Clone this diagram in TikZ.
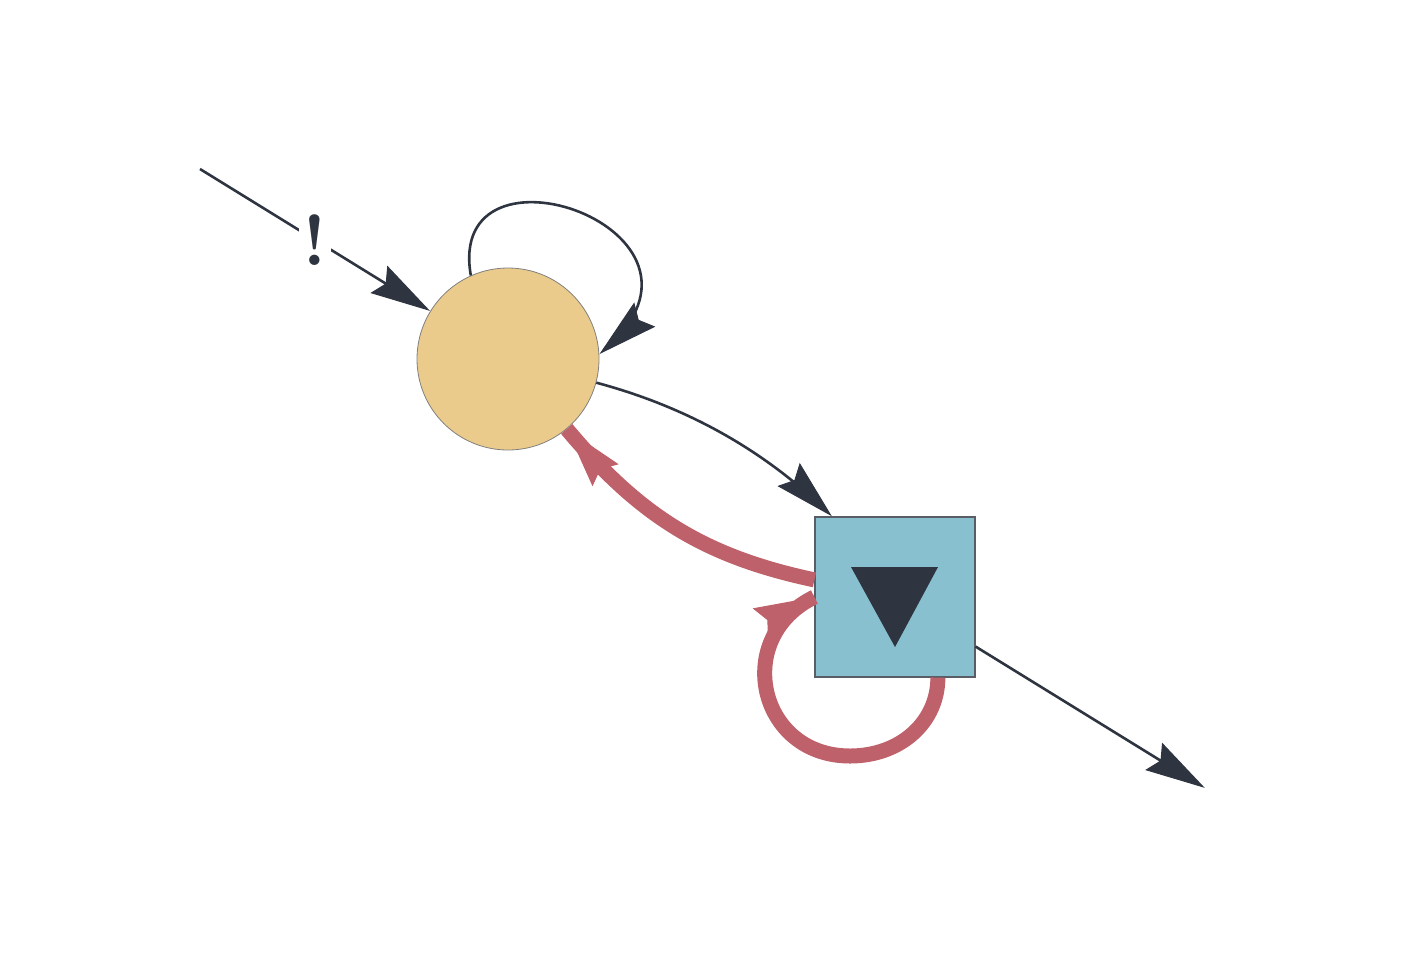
\documentclass[tikz,border=0pt]{standalone}
\usetikzlibrary{arrows.meta}
\usetikzlibrary{decorations.markings}
\definecolor{ndark}{HTML}{2E3440}
\definecolor{nyellow}{HTML}{EBCB8B}
\definecolor{nblue}{HTML}{88C0D0}
\definecolor{nred}{HTML}{BF616A}

\begin{document}
\begin{tikzpicture}[x=0.5pt, y=0.5pt,
  thinedge/.style = {line width=1.3pt, ndark, shorten >=4pt, postaction={decorate},
    decoration={markings, mark=at position 0.999 with {\arrow[line width=0.5pt]{Stealth[length=30pt, width=16pt, inset=4pt]}}}},
  thickedge/.style = {line width=7.5pt, nred, postaction={decorate},
    decoration={markings, mark=at position 0.999 with {\arrow[line width=0.5pt]{Stealth[length=30pt, width=17pt, inset=4pt]}}}},
]
	\useasboundingbox (0,0) rectangle (1407,-960);

	\node[circle, fill=nyellow, draw=gray, line width=0.4pt, minimum size=91pt, inner sep=0pt] (state) at (508,-359) {};
	\node[rectangle, fill=nblue, draw=ndark!80, line width=0.6pt, minimum size=80pt, inner sep=0pt] (stop) at (895,-597) {};
	\fill[ndark] ([shift={(-44,30)}]stop.center) -- ++(87,0) -- ++(-43,-80) -- cycle; % down triangle

	\coordinate (start) at (200,-169);
	\coordinate (end) at (1205,-788);
	\coordinate (stoploop) at ([shift={(-45,-159)}]stop.center);

	\draw[thinedge] (start) -- node[fill=white, inner sep=2pt, text=ndark, font=\fontsize{36}{40}\selectfont\bfseries] (bang) {!} (state); % entry
	\draw[thinedge] (state.114) .. controls +(100:150) and +(41:190) .. (state.3); % loop on state
	\draw[thinedge] (state.-15) .. controls +(-15:100) and +(136:90) .. (stop.128);

	\draw[thickedge] (stop) to[out=168, in=-50] (state);
	\draw[thickedge] (stop.-62) .. controls +(-90:45) and +(0:50) .. (stoploop)
		.. controls +(180:92) and +(206:92) .. (stop.west); % loop on stop

	\draw[thinedge] (stop) -- (end); % exit

\end{tikzpicture}
\end{document}
